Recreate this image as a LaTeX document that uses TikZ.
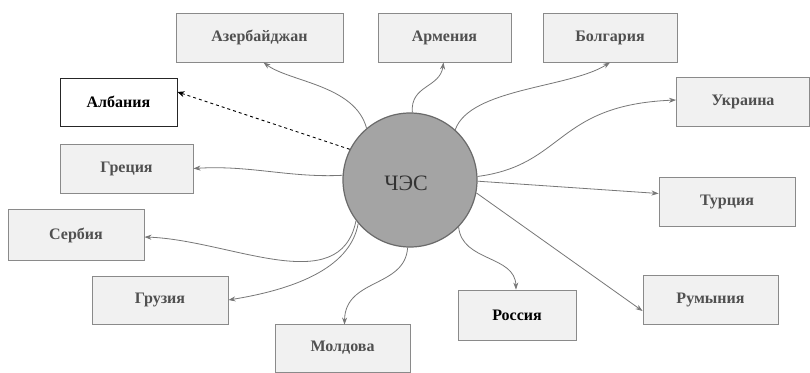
\documentclass[tikz,border=0pt]{standalone}
\usepackage{fontspec}
\setmainfont{Liberation Serif}
\usetikzlibrary{arrows.meta}
\definecolor{boxfill}{HTML}{F1F1F1}
\definecolor{boxline}{HTML}{8A8A8A}
\definecolor{boxtext}{HTML}{505050}
\definecolor{arr}{HTML}{777777}
\definecolor{circfill}{HTML}{A4A4A4}
\definecolor{circline}{HTML}{6A6A6A}
\begin{document}
\begin{tikzpicture}[x=1pt,y=-1pt,
  cbox/.style={draw=boxline,fill=boxfill,line width=0.9pt,minimum height=49pt,minimum width=134pt,inner sep=0pt,
    font=\fontsize{16}{16}\selectfont\bfseries,text=boxtext},
  darkbox/.style={cbox,text=black},
  link/.style={draw=arr,line width=0.8pt,-{Stealth[length=7pt,width=5pt]}}]
\useasboundingbox (0,0) rectangle (810,372);
\fill[white] (0,0) rectangle (810,372);
% centre
\node[circle,draw=circline,fill=circfill,line width=1.2pt,minimum size=134pt,inner sep=0pt] (c) at (410,180) {};
\node[font=\fontsize{22}{22}\selectfont,text=black!80] (lbl) at (406,183) {ЧЭС};
% boxes
\node[cbox,minimum width=167pt] (az) at (259.5,37.5) {Азербайджан};
\node[cbox,minimum width=133pt] (arm) at (444.5,37.5) {Армения};
\node[cbox] (bol) at (610,37.5) {Болгария};
\node[cbox,minimum width=133pt] (ukr) at (743,101.5) {Украина};
\node[darkbox,draw=black!85,line width=1pt,fill=white,minimum width=117pt,minimum height=48pt] (alb) at (118.5,102) {Албания};
\node[cbox,minimum width=133pt] (gre) at (126.5,168.5) {Греция};
\node[cbox,minimum width=136pt] (tur) at (727,201.5) {Турция};
\node[cbox,minimum width=136pt,minimum height=51pt] (ser) at (76,235) {Сербия};
\node[cbox,minimum width=136pt,minimum height=48pt] (gru) at (160,300) {Грузия};
\node[cbox,minimum width=135pt,minimum height=48pt] (mol) at (342.5,348) {Молдова};
\node[darkbox,minimum width=118pt,minimum height=50pt] (ros) at (517,315) {Россия};
\node[cbox,minimum width=135pt] (rum) at (710.5,300) {Румыния};
% connectors
\draw[link] (c.130) .. controls (355,85) and (290,82) .. ([xshift=4pt]az.south);
\draw[link] (c.88) .. controls (410,85) and (440,88) .. ([xshift=-1pt]arm.south);
\draw[link] (c.48) .. controls (470,88) and (570,88) .. (bol.south);
\draw[link] (c.3) .. controls (565,165) and (555,105) .. ([yshift=1.5pt]ukr.west);
\draw[link] (c.-1) -- ([yshift=8pt]tur.west);
\draw[link] (c.-11) -- ([yshift=-11pt]rum.west);
\draw[link] (c.-44) .. controls (462,262) and (515,255) .. ([xshift=-1pt]ros.north);
\draw[link] (c.-92) .. controls (405,288) and (345,278) .. ([xshift=2pt,yshift=-1pt]mol.north);
\draw[link] (c.-140) .. controls (350,270) and (290,290) .. (gru.east);
\draw[link] (c.-143) .. controls (340,300) and (230,240) .. ([yshift=-2pt]ser.east);
\draw[link] (c.176) .. controls (290,178) and (250,165) .. (gre.east);
\draw[draw=black,line width=0.9pt,dashed,-{Stealth[length=7pt,width=6pt]}] (c.153) -- ([yshift=10pt]alb.east);
\end{tikzpicture}
\end{document}
